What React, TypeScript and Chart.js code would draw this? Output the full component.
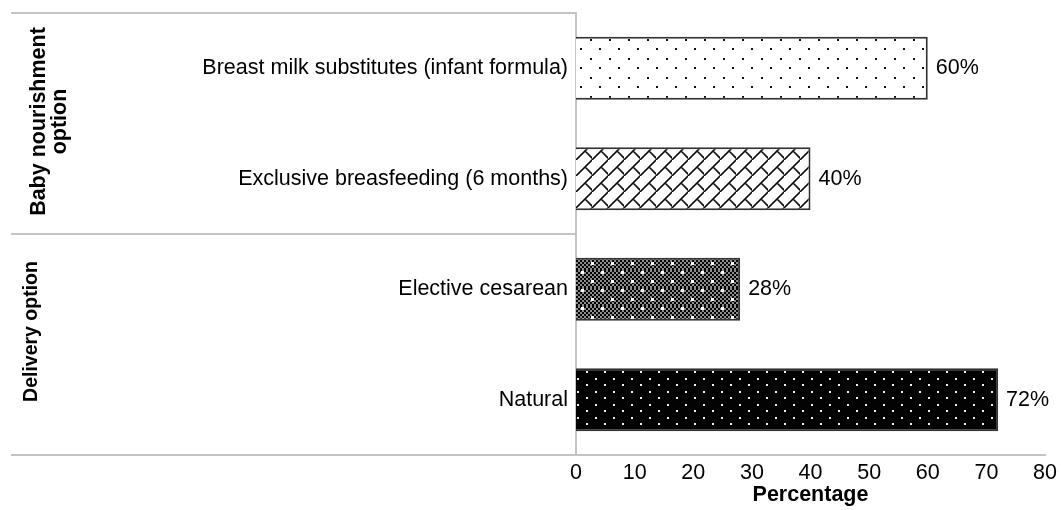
import React, { useEffect, useRef } from "react";
import { Chart, registerables } from "chart.js";

Chart.register(...registerables);

const categories = [
  "Breast milk substitutes (infant formula)",
  "Exclusive breasfeeding (6 months)",
  "Elective cesarean",
  "Natural",
];
const percentages = [60, 40, 28, 72];
const groupLabels = [["Baby nourishment", "option"], ["Delivery option"]];
const groupSizes = [2, 2];
const xMin = 0;
const xMax = 80;
const xStep = 10;
const xTitle = "Percentage";

const FONT = "'Liberation Sans', Arial, Helvetica, sans-serif";
const FS = 21.5;

function makePattern(w: number, h: number, draw: (ctx: CanvasRenderingContext2D) => void) {
  const c = document.createElement("canvas");
  c.width = w;
  c.height = h;
  const ctx = c.getContext("2d")!;
  draw(ctx);
  return ctx.createPattern(c, "repeat")!;
}

function buildPatterns() {
  const sparseDots = makePattern(19, 19, (ctx) => {
    ctx.fillStyle = "#ffffff";
    ctx.fillRect(0, 0, 19, 19);
    ctx.fillStyle = "#111111";
    ctx.fillRect(1, 1, 2, 2);
    ctx.fillRect(10, 10, 2, 2);
  });
  const brick = makePattern(16, 16, (ctx) => {
    ctx.fillStyle = "#ffffff";
    ctx.fillRect(0, 0, 16, 16);
    ctx.strokeStyle = "#111111";
    ctx.lineWidth = 1.6;
    ctx.beginPath();
    ctx.moveTo(-2, 18);
    ctx.lineTo(18, -2);
    ctx.moveTo(-2, 34);
    ctx.lineTo(34, -2);
    ctx.moveTo(9, 7);
    ctx.lineTo(17, 15);
    ctx.moveTo(-7, -9);
    ctx.lineTo(1, -1);
    ctx.stroke();
  });
  const checkerDots = makePattern(20, 18, (ctx) => {
    for (let y = 0; y < 18; y += 2) {
      for (let x = 0; x < 20; x += 2) {
        ctx.fillStyle = ((x + y) / 2) % 2 === 0 ? "#000000" : "#8c8c8c";
        ctx.fillRect(x, y, 2, 2);
      }
    }
    ctx.fillStyle = "#ffffff";
    ctx.fillRect(1, 1, 3, 3);
    ctx.fillRect(11, 10, 3, 3);
  });
  const darkDots = makePattern(18, 13, (ctx) => {
    ctx.fillStyle = "#030303";
    ctx.fillRect(0, 0, 18, 13);
    ctx.fillStyle = "#eeeeee";
    ctx.fillRect(1, 1, 2, 2);
    ctx.fillRect(10, 7, 2, 2);
  });
  return [sparseDots, brick, checkerDots, darkDots];
}

const valueLabelPlugin = {
  id: "valueLabels",
  afterDatasetsDraw(chart: any) {
    const ctx = chart.ctx;
    const meta = chart.getDatasetMeta(0);
    ctx.save();
    ctx.font = `${FS}px ${FONT}`;
    ctx.fillStyle = "#000000";
    ctx.textAlign = "left";
    ctx.textBaseline = "middle";
    meta.data.forEach((bar: any, i: number) => {
      ctx.fillText(`${percentages[i]}%`, bar.x + 8, bar.y);
    });
    ctx.restore();
  },
};

const groupPlugin = {
  id: "groups",
  afterDraw(chart: any) {
    const ctx = chart.ctx;
    const y = chart.scales.y;
    const area = chart.chartArea;
    const leftX = 11;
    ctx.save();
    ctx.strokeStyle = "#c4c4c4";
    ctx.lineWidth = 2;
    let start = 0;
    const bounds: number[] = [area.top];
    groupSizes.forEach((n) => {
      start += n;
      bounds.push(start >= categories.length ? area.bottom : y.getPixelForValue(start - 0.5));
    });
    bounds.forEach((b) => {
      ctx.beginPath();
      ctx.moveTo(leftX, Math.round(b));
      ctx.lineTo(area.left, Math.round(b));
      ctx.stroke();
    });
    ctx.fillStyle = "#000000";
    ctx.textAlign = "center";
    ctx.textBaseline = "middle";
    const lineXs = [[39, 60], [32]];
    const yOffsets = [-2, -13];
    const sizes = [FS, 19.5];
    groupLabels.forEach((lines, g) => {
      const cy = (bounds[g] + bounds[g + 1]) / 2 + yOffsets[g];
      ctx.font = `bold ${sizes[g]}px ${FONT}`;
      lines.forEach((txt, li) => {
        ctx.save();
        ctx.translate(lineXs[g][li], cy);
        ctx.rotate(-Math.PI / 2);
        ctx.fillText(txt, 0, 0);
        ctx.restore();
      });
    });
    ctx.restore();
  },
};

export default function App() {
  const canvasRef = useRef<HTMLCanvasElement | null>(null);

  useEffect(() => {
    document.body.style.margin = "0";
    const canvas = canvasRef.current!;
    const patterns = buildPatterns();
    const chart = new Chart(canvas, {
      type: "bar",
      data: {
        labels: categories,
        datasets: [
          {
            data: percentages,
            backgroundColor: patterns as any,
            borderColor: "#333333",
            borderWidth: 2,
            barPercentage: 0.57,
            categoryPercentage: 1,
          },
        ],
      },
      options: {
        indexAxis: "y",
        responsive: false,
        animation: false,
        devicePixelRatio: 1,
        layout: { padding: { top: 13, right: 16, bottom: 0, left: 0 } },
        plugins: {
          legend: { display: false },
          tooltip: { enabled: false },
          title: { display: false },
        },
        scales: {
          x: {
            type: "linear",
            min: xMin,
            max: xMax,
            grid: { display: false, drawTicks: false },
            border: { display: true, color: "#c4c4c4", width: 2 },
            ticks: {
              stepSize: xStep,
              padding: 5,
              color: "#000000",
              font: { family: FONT, size: FS },
            },
            title: {
              display: true,
              text: xTitle,
              color: "#000000",
              font: { family: FONT, size: FS, weight: "bold" },
              padding: { top: 0, bottom: 2 },
            },
            afterFit(scale: any) {
              scale.height = 55;
              scale.paddingLeft = 0;
              scale.paddingRight = 0;
            },
          },
          y: {
            type: "category",
            grid: { display: false, drawTicks: false },
            border: { display: true, color: "#c4c4c4", width: 2 },
            ticks: {
              padding: 8,
              color: "#000000",
              font: { family: FONT, size: FS },
            },
            afterFit(scale: any) {
              scale.width = 576;
              scale.paddingTop = 0;
              scale.paddingBottom = 0;
            },
          },
        },
      },
      plugins: [valueLabelPlugin, groupPlugin],
    });
    return () => chart.destroy();
  }, []);

  return (
    <div style={{ position: "absolute", left: 0, top: 0, width: 1061, height: 510 }}>
      <canvas ref={canvasRef} width={1061} height={510} style={{ display: "block" }} />
    </div>
  );
}
